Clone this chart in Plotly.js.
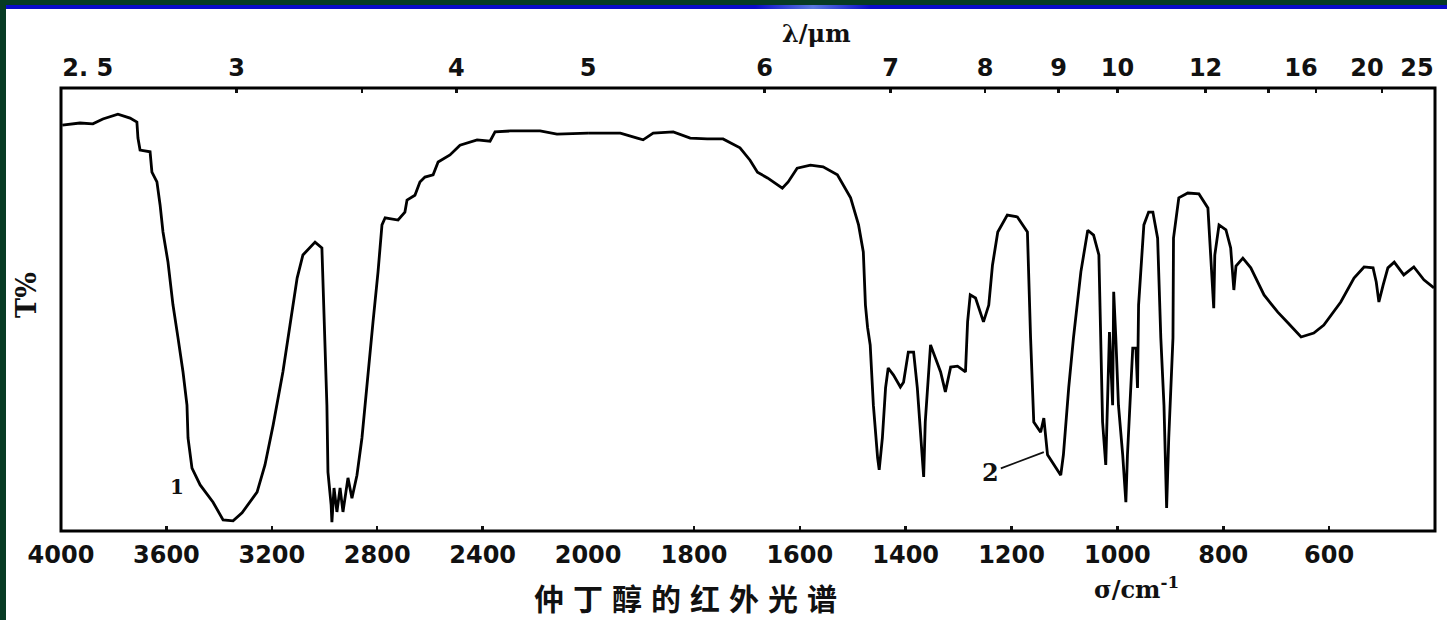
<!DOCTYPE html>
<html>
<head>
<meta charset="utf-8">
<script src="https://cdn.plot.ly/plotly-3.0.1.min.js"></script>
<style>
  html, body { margin:0; padding:0; width:1447px; height:620px; overflow:hidden; background:#073b24; }
  #bar { position:absolute; left:6px; top:5px; width:1441px; height:4px; background:linear-gradient(90deg,#0a0ac8 0%,#0a0ac8 52%,#5a78e0 56%,#0a0ac8 60%,#0a0ac8 100%); }
  #chart { position:absolute; left:6px; top:9px; width:1441px; height:611px; background:#fff; }
</style>
</head>
<body>
<div id="bar"></div>
<div id="chart"></div>
<script>
// ---- Data: IR spectrum of sec-butanol (wavenumber cm^-1, transmittance %) ----
// 4000-2000 cm^-1 (compressed scale)
const wnHigh = [3995,3928,3879,3841,3784,3738,3712,3708,3700,3662,3655,3636,3624,3613,3594,3575,3556,3537,3522,3518,3503,3472,3423,3385,3347,3313,3256,3226,3195,3158,3131,3104,3082,3036,3010,3006,2998,2991,2987,2975,2972,2964,2953,2941,2930,2911,2896,2877,2858,2835,2816,2797,2782,2770,2721,2695,2687,2657,2638,2619,2588,2569,2524,2486,2421,2372,2353,2296,2182,2118,2000];
const tHigh  = [91.6,92.1,91.9,93.0,94.1,93.2,92.3,88.7,86.0,85.6,81.0,78.8,73.6,67.5,60.7,51.0,43.6,35.9,28.4,21.0,14.2,10.4,6.5,2.5,2.3,4.1,8.8,14.9,23.9,35.9,46.5,57.1,62.3,65.2,63.9,57.1,43.6,28.4,13.3,5.9,2.0,9.7,4.3,9.7,4.3,12.0,7.4,12.6,21.0,35.9,47.2,58.5,69.1,70.7,70.2,72.0,74.7,75.8,78.8,79.9,80.4,83.3,84.9,87.1,88.3,88.0,90.1,90.3,90.3,89.6,89.8];
// 2000-400 cm^-1 (expanded scale)
const wnLow = [2000,1996,1939,1907,1896,1877,1839,1807,1775,1745,1713,1694,1680,1661,1633,1622,1605,1580,1556,1529,1504,1489,1480,1476,1472,1467,1461,1453,1450,1444,1438,1433,1423,1410,1404,1395,1385,1378,1372,1366,1363,1357,1353,1344,1334,1325,1315,1302,1287,1283,1278,1268,1253,1243,1236,1226,1208,1189,1170,1164,1158,1145,1139,1132,1120,1107,1102,1092,1083,1069,1056,1045,1035,1032,1028,1022,1018,1015,1009,1007,1003,998,990,984,981,975,971,965,962,960,950,941,933,924,918,912,907,903,895,894,884,867,846,829,824,818,816,808,795,786,780,776,763,748,723,697,678,653,629,610,578,553,534,517,511,506,498,489,477,459,440,421,402];
const tLow  = [89.8,89.8,89.8,88.7,88.3,89.8,90.1,88.7,88.5,88.5,86.5,83.7,81.0,79.7,77.4,78.8,81.9,82.6,82.2,80.4,75.2,69.1,63.0,51.0,46.0,42.0,28.4,16.5,13.8,21.0,32.3,36.8,35.2,32.5,33.6,40.4,40.4,32.3,21.0,12.2,24.6,35.9,42.0,39.1,35.9,31.4,37.0,37.2,35.9,47.2,53.3,52.6,47.2,51.0,60.0,67.5,71.3,70.9,67.5,43.6,24.6,22.3,25.5,17.2,14.9,12.6,17.2,32.3,43.6,58.5,67.9,66.8,62.3,43.6,24.6,14.9,35.9,44.9,28.4,54.0,43.6,28.4,17.2,6.5,17.2,33.6,41.3,41.3,32.3,51.0,69.1,72.0,72.0,66.1,43.6,28.4,5.2,21.0,43.6,66.1,75.2,76.3,76.1,72.9,62.3,50.3,62.3,69.1,68.0,63.9,54.4,59.8,61.6,59.4,53.3,49.4,47.0,43.8,44.7,46.5,51.7,57.1,59.6,59.4,56.2,51.7,55.5,59.4,60.7,57.8,59.6,56.7,54.9];

// ---- Tick labels ----
const sigmaTicksHigh = [4000,3600,3200,2800,2400];
const sigmaTicksLow  = [2000,1800,1600,1400,1200,1000,800,600];
const lambdaStart = [2.5];
const lambdaStartText = ["2. 5"];
const lambdaHigh = [3,3.5,4,5];
const lambdaHighText = ["3","","4","5"];
const lambdaLow = [6,7,8,9,10,12,14];
const lambdaLowText = ["6","7","8","9","10","12",""];
const lambdaFar = [16,20];
const lambdaFarText = ["16","20"];
const lambdaEnd = [25];
const lambdaEndText = ["25"];

const tickFont = {family:"DejaVu Sans", size:24, weight:"bold", color:"#111"};
const common = {showgrid:false, zeroline:false, showline:false, ticks:"inside", ticklen:5, tickwidth:2.5, tickcolor:"#111", tickfont:tickFont, fixedrange:true, ticklabeloverflow:"allow"};
const split = 0.3836;

function topAxis(over, range, lambdas, texts, pos, shift) {
  return Object.assign({}, common, {overlaying:over, side:"top", anchor:"y", range:range, autorange:false,
    tickmode:"array", tickvals:lambdas.map(l => 1e4/l), ticktext:texts, ticklabelstandoff:6, ticklabelposition:pos, ticklabelshift:shift});
}

const traces = [
  {x:wnHigh, y:tHigh, xaxis:"x", yaxis:"y", mode:"lines", line:{color:"#000", width:2.8}, hoverinfo:"skip"},
  {x:wnLow, y:tLow, xaxis:"x2", yaxis:"y", mode:"lines", line:{color:"#000", width:2.8}, hoverinfo:"skip"}
];
// carriers for the top wavelength axes (no marks)
["x3","x4","x5","x6","x7"].forEach(ax => traces.push({x:[], y:[], xaxis:ax, yaxis:"y", mode:"lines", hoverinfo:"skip"}));

const layout = {
  width:1441, height:611,
  margin:{l:55, r:12, t:79, b:89},
  paper_bgcolor:"#ffffff", plot_bgcolor:"#ffffff",
  showlegend:false,
  xaxis: Object.assign({}, common, {domain:[0,split], range:[4000,2000], tickmode:"array", tickvals:sigmaTicksHigh, ticktext:sigmaTicksHigh.map(String), anchor:"y", ticklabelstandoff:7}),
  xaxis2: Object.assign({}, common, {domain:[split,1], range:[2000,400], tickmode:"array", tickvals:sigmaTicksLow, ticktext:sigmaTicksLow.map(String), anchor:"y", ticklabelstandoff:7}),
  xaxis3: topAxis("x", [4000,2000], lambdaHigh, lambdaHighText, "outside", 0),
  xaxis4: topAxis("x2", [2000,400], lambdaLow, lambdaLowText, "outside", 0),
  xaxis5: topAxis("x", [4000,2000], lambdaStart, lambdaStartText, "outside right", 0),
  xaxis6: topAxis("x2", [2000,400], lambdaFar, lambdaFarText, "outside", 15),
  xaxis7: topAxis("x2", [2000,400], lambdaEnd, lambdaEndText, "outside left", 0),
  yaxis: {domain:[0,1], range:[0,100], showticklabels:false, ticks:"", showgrid:false, zeroline:false, showline:false, fixedrange:true},
  shapes: [
    {type:"rect", xref:"paper", yref:"paper", x0:0, x1:1, y0:0, y1:1, line:{color:"#000", width:3}, layer:"above"}
  ],
  annotations: [
    {xref:"paper", yref:"paper", x:0.5502, y:1.124, xanchor:"center", yanchor:"middle", text:"λ/μm", showarrow:false, font:{family:"DejaVu Serif", size:24, weight:"bold", color:"#111"}},
    {xref:"paper", yref:"paper", x:0.783, y:-0.1287, xanchor:"center", yanchor:"middle", text:"σ/cm<sup>-1</sup>", showarrow:false, font:{family:"DejaVu Serif", size:24, weight:"bold", color:"#111"}},
    {xref:"paper", yref:"paper", x:0.4578, y:-0.149, xanchor:"center", yanchor:"middle", text:"仲丁醇的红外光谱", showarrow:false, font:{family:"Noto Sans CJK SC", size:30, weight:"bold", color:"#111"}},
    {xref:"paper", yref:"paper", x:-0.0247, y:0.533, xanchor:"center", yanchor:"middle", text:"T%", textangle:-90, showarrow:false, font:{family:"DejaVu Serif", size:27, weight:"bold", color:"#111"}},
    {xref:"x", yref:"y", x:3560, y:9.9, text:"1", showarrow:false, font:{family:"DejaVu Serif", size:20, weight:"bold", color:"#111"}},
    {xref:"x2", yref:"y", x:1139, y:17.8, text:"2", showarrow:true, arrowhead:0, arrowwidth:1.8, arrowcolor:"#111", ax:-53, ay:20, font:{family:"DejaVu Serif", size:24, weight:"bold", color:"#111"}}
  ]
};

Plotly.newPlot("chart", traces, layout, {displayModeBar:false, staticPlot:true}).then(() => {
  const anns = document.querySelectorAll("#chart .annotation");
  anns.forEach(a => {
    const t = a.querySelector("text");
    if (t && t.textContent.indexOf("仲") === 0) { t.style.letterSpacing = "9px"; }
  });
});
</script>
</body>
</html>
